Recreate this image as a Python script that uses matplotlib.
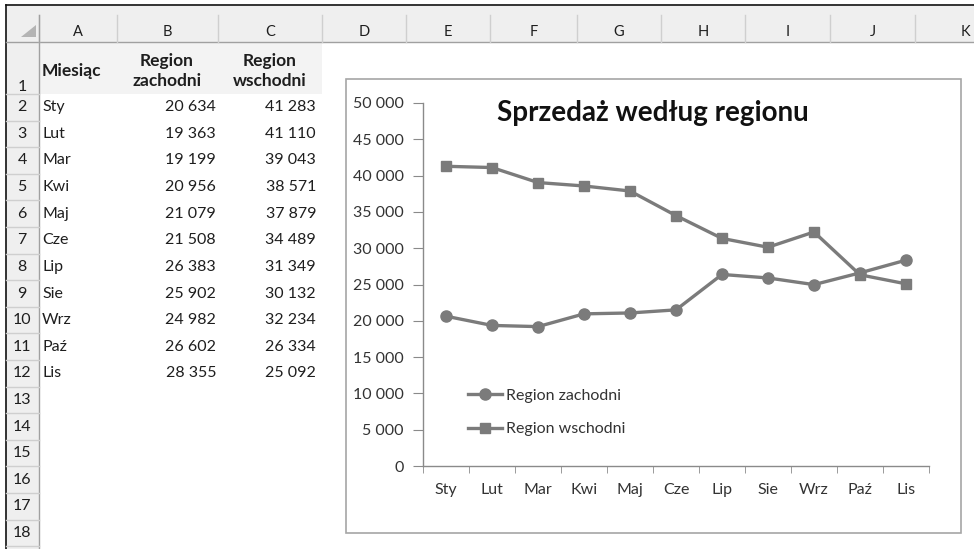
import matplotlib
matplotlib.use("Agg")
import matplotlib.pyplot as plt
import matplotlib.patches as patches
from matplotlib.ticker import FuncFormatter, FixedLocator

plt.rcParams['font.family'] = ['Lato', 'DejaVu Sans']

# data from the sheet
months = ["Sty", "Lut", "Mar", "Kwi", "Maj", "Cze", "Lip", "Sie", "Wrz", "Paź", "Lis"]
west = [20634, 19363, 19199, 20956, 21079, 21508, 26383, 25902, 24982, 26602, 28355]
east = [41283, 41110, 39043, 38571, 37879, 34489, 31349, 30132, 32234, 26334, 25092]
col_letters = ["A", "B", "C", "D", "E", "F", "G", "H", "I", "J", "K"]
head_month = "Miesiąc"
head_west = "Region\nzachodni"
head_east = "Region\nwschodni"
title = "Sprzedaż według regionu"

W, H = 974, 549
LINE = '#7b7b7b'
TXT = '#1e1e1e'
HDR = '#efefef'
SEP = '#cfcfcf'


def fmt(v):
    return f"{v:,.0f}".replace(",", " ")


fig = plt.figure(figsize=(W / 100, H / 100), dpi=100)
bg = fig.add_axes([0, 0, 1, 1])
bg.set_xlim(0, W)
bg.set_ylim(H, 0)
bg.axis('off')

# sheet geometry (pixels)
col_edges = [39, 117, 218, 322, 406, 490, 577, 661, 745, 830, 915, 1000]
hdr_top, hdr_bot = 6, 42
row1_bot = 94
row_h = 26.6
row_x0, row_x1 = 6, 39

# column header band
bg.add_patch(patches.Rectangle((row_x0, hdr_top), W - row_x0, hdr_bot - hdr_top,
                               facecolor=HDR, edgecolor='none'))
bg.plot([row_x0, W], [5, 5], color='#111111', lw=1.2)
bg.plot([row_x0, row_x0], [5, H], color='#111111', lw=1.2)
bg.plot([row_x0, W], [hdr_bot, hdr_bot], color='#a0a0a0', lw=1)
for x in col_edges[:-1]:
    bg.plot([x, x], [15, hdr_bot], color=SEP, lw=1)
for i, letter in enumerate(col_letters):
    cx = (col_edges[i] + col_edges[i + 1]) / 2
    if i == len(col_letters) - 1:
        cx = 965
    bg.text(cx, 32, letter, ha='center', va='center', fontsize=10.5, color=TXT)
bg.add_patch(patches.Polygon([(36, 25), (36, 37), (21, 37)], closed=True,
                             facecolor='#b4b4b4', edgecolor='none'))

# row header column
bg.add_patch(patches.Rectangle((row_x0, hdr_bot), row_x1 - row_x0, H - hdr_bot,
                               facecolor=HDR, edgecolor='none'))
bg.plot([row_x1, row_x1], [15, H], color='#a0a0a0', lw=1)
row_tops = [hdr_bot, row1_bot] + [row1_bot + row_h * k for k in range(1, 18)]
for y in row_tops[1:]:
    bg.plot([row_x0, row_x1], [y, y], color=SEP, lw=1)
bg.text(22, 87, "1", ha='center', va='center', fontsize=11.5, color=TXT)
for r in range(2, 19):
    cy = row1_bot + row_h * (r - 2) + row_h / 2
    bg.text(22, cy, str(r), ha='center', va='center', fontsize=11.5, color=TXT)

# header row of the table
bg.add_patch(patches.Rectangle((row_x1 + 1, hdr_bot + 1), col_edges[3] - row_x1 - 1,
                               row1_bot - hdr_bot - 1, facecolor='#f3f3f3', edgecolor='none'))
bg.text(42, 71, head_month, ha='left', va='center', fontsize=12.5, fontweight='bold', color=TXT)
bg.text(167, 71, head_west, ha='center', va='center', fontsize=12.5, fontweight='bold',
        color=TXT, linespacing=1.35)
bg.text(270, 71, head_east, ha='center', va='center', fontsize=12.5, fontweight='bold',
        color=TXT, linespacing=1.35)

for k, (m, w, e) in enumerate(zip(months, west, east)):
    cy = row1_bot + row_h * k + row_h / 2
    bg.text(42, cy, m, ha='left', va='center', fontsize=11.5, color=TXT)
    bg.text(216, cy, fmt(w), ha='right', va='center', fontsize=11.5, color=TXT)
    bg.text(316, cy, fmt(e), ha='right', va='center', fontsize=11.5, color=TXT)

# chart frame
bg.add_patch(patches.Rectangle((346, 79), 961 - 346, 533 - 79, facecolor='white',
                               edgecolor='#a6a6a6', lw=1.2))
bg.text(653, 113, title, ha='center', va='center', fontsize=20, fontweight='bold',
        color='#111111')

# chart axes
ax = fig.add_axes([423 / W, 1 - 466 / H, (929 - 423) / W, (466 - 103) / H])
ax.patch.set_alpha(0)
x = list(range(len(months)))
ax.plot(x, west, color=LINE, lw=2.4, marker='o', ms=8, label="Region zachodni")
ax.plot(x, east, color=LINE, lw=2.4, marker='s', ms=7.5, label="Region wschodni")
ax.set_xlim(-0.5, len(months) - 0.5)
ax.set_ylim(0, 50000)
ax.yaxis.set_major_locator(FixedLocator(range(0, 50001, 5000)))
ax.yaxis.set_major_formatter(FuncFormatter(lambda v, p: fmt(v)))
ax.set_xticks(x)
ax.set_xticklabels(months)
ax.set_xticks([i - 0.5 for i in range(len(months) + 1)], minor=True)
ax.tick_params(axis='x', which='major', length=0, pad=12, labelsize=11.5, labelcolor='#333333')
ax.tick_params(axis='x', which='minor', length=5, color='#8a8a8a')
ax.tick_params(axis='y', length=7, color='#8a8a8a', labelsize=11.5, labelcolor='#333333', pad=7)
for s in ['top', 'right']:
    ax.spines[s].set_visible(False)
for s in ['left', 'bottom']:
    ax.spines[s].set_color('#8a8a8a')
    ax.spines[s].set_linewidth(1)

ax.legend(loc='center left', bbox_to_anchor=(468, 412.5), bbox_transform=bg.transData,
          frameon=False, fontsize=11.5, handlelength=2.1, handletextpad=0.25,
          borderpad=0, borderaxespad=0, labelspacing=1.2, labelcolor='#333333')

fig.savefig("out.png", dpi=100)
